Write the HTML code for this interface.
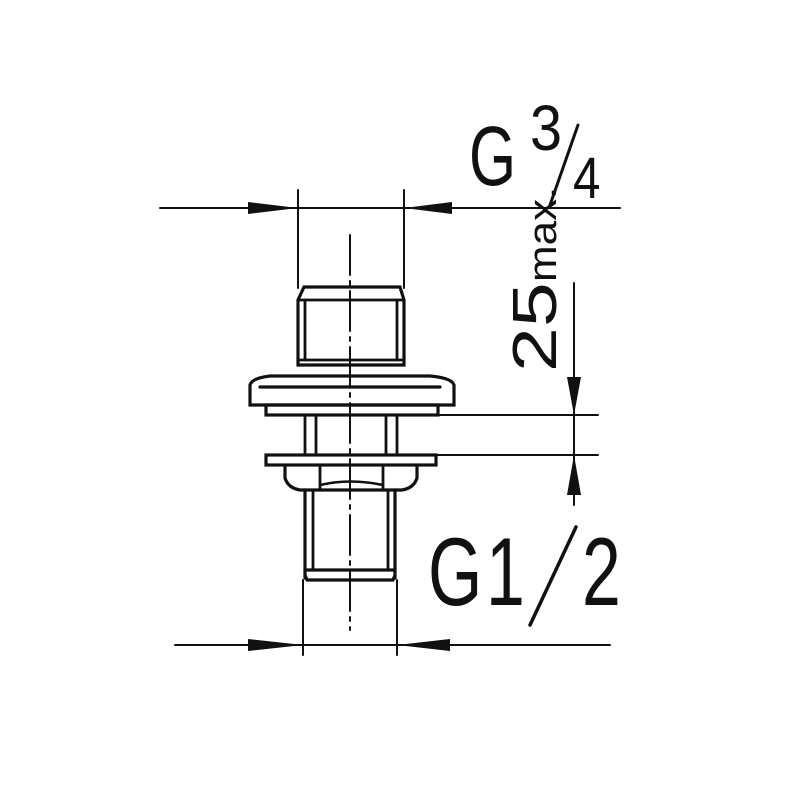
<!DOCTYPE html>
<html><head><meta charset="utf-8"><style>html,body{margin:0;padding:0;background:#fff}</style></head>
<body>
<svg width="800" height="800" viewBox="0 0 800 800" xmlns="http://www.w3.org/2000/svg">
<g stroke="#111" fill="none" stroke-width="2.8" stroke-linecap="round">
<line x1="160" y1="208" x2="620" y2="208" stroke-width="2"/>
<line x1="298" y1="190" x2="298" y2="288" stroke-width="2"/>
<line x1="404" y1="190" x2="404" y2="288" stroke-width="2"/>
<line x1="350" y1="235" x2="350" y2="630" stroke-width="2" stroke-dasharray="40,6,4,6"/>
<path d="M298 300 L304 287 L400 287 L404 300 L404 365 L298 365 Z" stroke-width="3.2"/>
<line x1="298" y1="300" x2="404" y2="300"/>
<line x1="305" y1="300" x2="305" y2="360"/>
<line x1="397" y1="300" x2="397" y2="360"/>
<line x1="300" y1="360" x2="402" y2="360"/>
<path d="M250 405 L250 385 Q252 378 270 376 L430 376 Q452 378 454 385 L454 405 Z" stroke-width="3.2"/>
<line x1="260" y1="387" x2="440" y2="387" stroke-width="3.2"/>
<rect x="266" y="405" width="172" height="10" stroke-width="3.2"/>
<line x1="305" y1="415" x2="305" y2="455"/>
<line x1="316" y1="415" x2="316" y2="455"/>
<line x1="386" y1="415" x2="386" y2="455"/>
<line x1="397" y1="415" x2="397" y2="455"/>
<rect x="266" y="455" width="170" height="10" stroke-width="3.2"/>
<path d="M285 465 L285 478 Q288 488 300 490 L402 490 Q414 488 417 478 L417 465" stroke-width="3.2"/>
<line x1="320" y1="465" x2="320" y2="490"/>
<line x1="383" y1="465" x2="383" y2="490"/>
<path d="M320 485 Q350 478 383 485" stroke-width="2.5"/>
<line x1="305" y1="490" x2="305" y2="578" stroke-width="3.2"/>
<line x1="313" y1="490" x2="313" y2="570"/>
<line x1="388" y1="490" x2="388" y2="570"/>
<line x1="395" y1="490" x2="395" y2="578" stroke-width="3.2"/>
<path d="M305 570 L395 570 M307 580 L393 580 L395 575 M305 575 L307 580" stroke-width="3.2"/>
<line x1="303" y1="580" x2="303" y2="655" stroke-width="2"/>
<line x1="397" y1="580" x2="397" y2="655" stroke-width="2"/>
<line x1="175" y1="645" x2="610" y2="645" stroke-width="2"/>
<line x1="438" y1="415" x2="598" y2="415" stroke-width="2"/>
<line x1="436" y1="455" x2="598" y2="455" stroke-width="2"/>
<line x1="574" y1="283" x2="574" y2="505" stroke-width="2"/>
<line x1="550" y1="205" x2="578" y2="125" stroke-width="3"/>
<line x1="530" y1="625" x2="576" y2="527" stroke-width="3.5"/>
</g>
<g fill="#111">
<polygon points="248,202 298,208 248,214"/>
<polygon points="452,202 404,208 452,214"/>
<polygon points="248,639 303,645 248,651"/>
<polygon points="450,639 397,645 450,651"/>
<polygon points="567,377 581,377 574,415"/>
<polygon points="567,495 581,495 574,455"/>
</g>
<g font-family="Liberation Sans, sans-serif" fill="#111">
<text transform="translate(469,185) scale(0.72,1)" font-size="84">G</text>
<text transform="translate(530,150) scale(0.9,1)" font-size="64">3</text>
<text transform="translate(573,198) scale(0.85,1)" font-size="58">4</text>
<text transform="translate(428,605) scale(0.72,1)" font-size="97">G</text>
<text transform="translate(486,605) scale(0.72,1)" font-size="97">1</text>
<text transform="translate(582,605) scale(0.72,1)" font-size="97">2</text>
<g transform="translate(556,372) rotate(-90)">
<text transform="scale(1.3,1)" font-size="62">25</text>
<text transform="translate(90,0) scale(1.1,1)" font-size="40">max.</text>
</g>
</g>
</svg>
</body></html>
